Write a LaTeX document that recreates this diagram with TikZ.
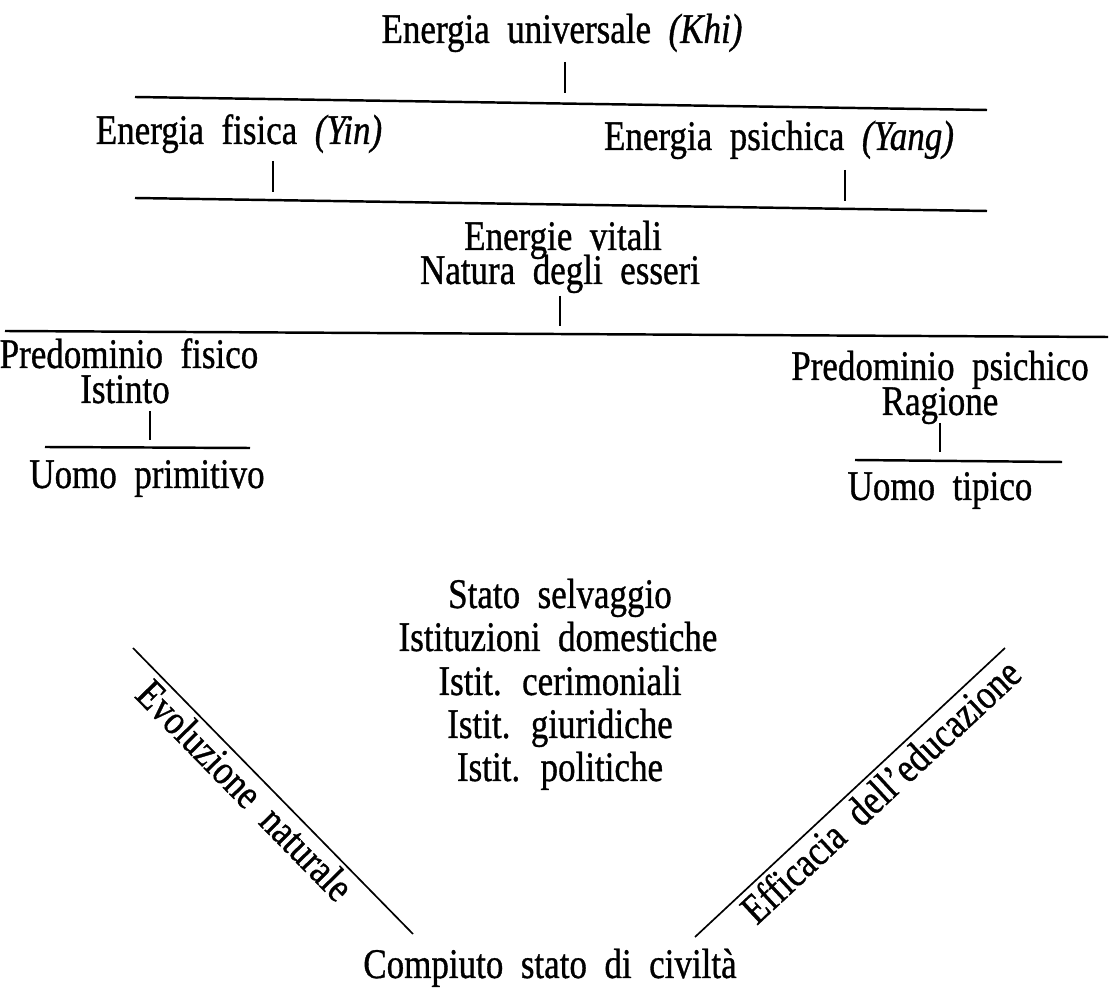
\documentclass[tikz,border=0pt]{standalone}
\usepackage{fontspec}
\setmainfont{Liberation Serif}[FakeStretch=0.83, WordSpace=2.0, FakeBold=0.8]
\begin{document}
\begin{tikzpicture}[x=0.02cm,y=-0.02cm,
  txt/.style={inner sep=0pt, anchor=base, font=\fontsize{24}{28}\selectfont},
  rot/.style={inner sep=0pt, sloped, below=2pt, font=\fontsize{24}{28}\selectfont},
  rule/.style={line width=1.4pt},
  tick/.style={line width=1.2pt},
  diag/.style={line width=0.95pt}]
\useasboundingbox (0,0) rectangle (1110,1006);
% texts
\node[txt] (khi) at (562,43) {Energia universale \textit{(Khi)}};
\node[txt] (yin) at (239,144) {Energia fisica \textit{(Yin)}};
\node[txt] (yang) at (779,150) {Energia psichica \textit{(Yang)}};
\node[txt] (vit) at (563,250) {Energie vitali};
\node[txt] (nat) at (560,284) {Natura degli esseri};
\node[txt] (pfis) at (129,368) {Predominio fisico};
\node[txt] (ist) at (125,403) {Istinto};
\node[txt] (uprim) at (147,488) {Uomo primitivo};
\node[txt] (ppsi) at (940,380) {Predominio psichico};
\node[txt] (rag) at (940,415) {Ragione};
\node[txt] (utip) at (940,500) {Uomo tipico};
\node[txt] (s1) at (560,608) {Stato selvaggio};
\node[txt] (s2) at (558,651) {Istituzioni domestiche};
\node[txt] (s3) at (560,695) {Istit. cerimoniali};
\node[txt] (s4) at (560,738) {Istit. giuridiche};
\node[txt] (s5) at (560,781) {Istit. politiche};
\node[txt] (comp) at (550,978) {Compiuto stato di civiltà};
% rules
\coordinate (r1a) at (135,97);  \coordinate (r1b) at (987,110);
\coordinate (r2a) at (135,198); \coordinate (r2b) at (987,211);
\coordinate (r3a) at (5,331);   \coordinate (r3b) at (1108,337);
\coordinate (r4a) at (45,447);  \coordinate (r4b) at (250,448);
\coordinate (r5a) at (855,460); \coordinate (r5b) at (1062,462);
\draw[rule] (r1a) -- (r1b);
\draw[rule] (r2a) -- (r2b);
\draw[rule] (r3a) -- (r3b);
\draw[rule] (r4a) -- (r4b);
\draw[rule] (r5a) -- (r5b);
% ticks
\coordinate (t1a) at (565,62);  \coordinate (t1b) at (565,93);
\coordinate (t2a) at (273,161); \coordinate (t2b) at (273,192);
\coordinate (t3a) at (845,170); \coordinate (t3b) at (845,201);
\coordinate (t4a) at (560,296); \coordinate (t4b) at (560,326);
\coordinate (t5a) at (150,411); \coordinate (t5b) at (150,440);
\coordinate (t6a) at (940,423); \coordinate (t6b) at (940,452);
\draw[tick] (t1a) -- (t1b);
\draw[tick] (t2a) -- (t2b);
\draw[tick] (t3a) -- (t3b);
\draw[tick] (t4a) -- (t4b);
\draw[tick] (t5a) -- (t5b);
\draw[tick] (t6a) -- (t6b);
% diagonals
\coordinate (dla) at (133,648); \coordinate (dlb) at (413,934);
\coordinate (dra) at (695,937); \coordinate (drb) at (1005,648);
\draw[diag] (dla) -- node[rot, pos=0.45] (evo) {Evoluzione naturale} (dlb);
\draw[diag] (dra) -- node[rot, pos=0.555] (eff) {Efficacia dell'educazione} (drb);
\end{tikzpicture}
\end{document}
